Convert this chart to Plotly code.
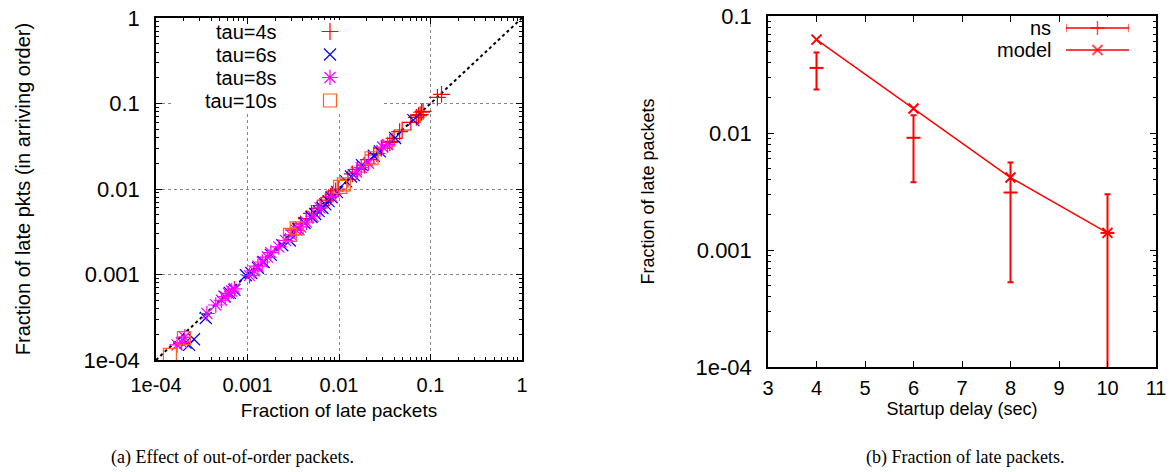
#### two log-scale panels: out-of-order effect and fraction of late packets

import plotly.graph_objects as go

# ---- panel (a): fraction of late packets vs late pkts in arriving order
tau4_x = [0.132, 0.119, 0.083, 0.080, 0.077, 0.074, 0.070, 0.061, 0.049, 0.046, 0.040,
          0.038, 0.036, 0.029, 0.026, 0.024, 0.021, 0.019, 0.016, 0.014, 0.0125, 0.0098,
          0.0092, 0.0086, 0.0081, 0.0077, 0.0072, 0.0064, 0.0058, 0.0050, 0.0044, 0.0038, 0.0032]
tau4_y = [0.128, 0.118, 0.081, 0.079, 0.074, 0.072, 0.069, 0.060, 0.049, 0.047, 0.039,
          0.036, 0.035, 0.030, 0.026, 0.025, 0.022, 0.019, 0.017, 0.015, 0.013, 0.0100,
          0.0095, 0.0087, 0.0082, 0.0079, 0.0074, 0.0064, 0.0059, 0.0052, 0.0045, 0.0039, 0.0033]

tau6_x = [0.00026, 0.00023, 0.00021, 0.00035, 0.00056, 0.00064, 0.00072, 0.00096, 0.00110,
          0.00130, 0.00150, 0.0018, 0.0024, 0.0029, 0.0036, 0.0042, 0.0050, 0.0055, 0.0060,
          0.0066, 0.0071, 0.0077, 0.0083, 0.0095, 0.0120, 0.0135, 0.0145, 0.0178, 0.0240,
          0.0280, 0.0410, 0.0650]
tau6_y = [0.000175, 0.000150, 0.000160, 0.00031, 0.00055, 0.00061, 0.00066, 0.00098, 0.00104,
          0.00120, 0.00140, 0.0017, 0.0022, 0.0025, 0.0034, 0.0040, 0.0047, 0.0051, 0.0055,
          0.0060, 0.0066, 0.0072, 0.0080, 0.0092, 0.0123, 0.0140, 0.0145, 0.0190, 0.0245,
          0.0275, 0.0395, 0.0640]

tau8_x = [0.000170, 0.000190, 0.000205, 0.00036, 0.00045, 0.00052, 0.00057, 0.00062, 0.00067,
          0.00072, 0.00105, 0.00118, 0.00130, 0.00145, 0.00165, 0.0018, 0.0022, 0.0026, 0.0030,
          0.0034, 0.0038, 0.0044, 0.0052, 0.0062, 0.0083, 0.0155, 0.0175, 0.021, 0.030, 0.034]
tau8_y = [0.000150, 0.000160, 0.000185, 0.00035, 0.00044, 0.00050, 0.00055, 0.00060, 0.00064,
          0.00068, 0.00097, 0.00110, 0.00125, 0.00140, 0.00160, 0.0018, 0.0021, 0.0025, 0.0029,
          0.0033, 0.0036, 0.0041, 0.0048, 0.0060, 0.0082, 0.0158, 0.0178, 0.020, 0.031, 0.033]

tau10_x = [0.000142, 0.000202, 0.00291, 0.00345, 0.0103, 0.0113, 0.0227]
tau10_y = [0.000115, 0.000180, 0.00290, 0.00347, 0.0106, 0.0113, 0.0229]

diag = [1e-4, 1]
log_ticks_a = [1e-4, 0.001, 0.01, 0.1, 1]
log_labels_a = ["1e-04", "0.001", "0.01", "0.1", "1"]

# ---- panel (b): fraction of late packets vs startup delay
delay = [4, 6, 8, 10]
model = [0.0628, 0.0162, 0.00416, 0.0014]
ns_mean = [0.036, 0.0091, 0.0031, 0.0014]
ns_high = [0.0487, 0.0142, 0.0056, 0.0030]
ns_low = [0.0235, 0.0038, 0.00053, 0.00005]
log_ticks_b = [1e-4, 0.001, 0.01, 0.1]
log_labels_b = ["1e-04", "0.001", "0.01", "0.1"]

FONT = "Liberation Sans"
RED = "#ff0000"
FW, FH = 1174, 472


def px(x):
    return x / FW


def py(y):
    return 1 - y / FH


fig = go.Figure()

# diagonal reference line
fig.add_trace(go.Scatter(x=diag, y=diag, mode="lines", showlegend=False,
                         line=dict(color="black", width=2, dash="dot"),
                         xaxis="x", yaxis="y"))

series = [
    ("tau=4s", tau4_x, tau4_y, "cross-thin-open", "#ff0000", 12),
    ("tau=6s", tau6_x, tau6_y, "x-thin-open", "#0000ff", 12),
    ("tau=8s", tau8_x, tau8_y, "asterisk-open", "#ff00ff", 13),
    ("tau=10s", tau10_x, tau10_y, "square-open", "#ff6020", 13),
]
for i, (name, xs, ys, sym, col, sz) in enumerate(series):
    mk = dict(symbol=sym, size=sz, color=col, line=dict(color=col, width=1.2))
    fig.add_trace(go.Scatter(x=xs, y=ys, mode="markers", name=name, showlegend=False,
                             marker=mk, cliponaxis=False, xaxis="x", yaxis="y"))
    # gnuplot-style key: label on the left, sample symbol on the right
    fig.add_trace(go.Scatter(x=[0], y=[i], mode="markers", showlegend=False, hoverinfo="skip",
                             marker=mk, xaxis="x3", yaxis="y3"))
    fig.add_annotation(text=name, x=px(279), xref="paper", y=i, yref="y3", showarrow=False,
                       xanchor="right", yanchor="middle",
                       font=dict(family=FONT, size=20, color="black"))

# ns simulation with error bars
fig.add_trace(go.Scatter(
    x=delay, y=ns_mean, mode="markers", name="ns", showlegend=False,
    marker=dict(symbol="line-ew-open", size=10, color=RED, line=dict(color=RED, width=2)),
    error_y=dict(type="data", symmetric=False,
                 array=[h - m for h, m in zip(ns_high, ns_mean)],
                 arrayminus=[m - l for m, l in zip(ns_mean, ns_low)],
                 color=RED, thickness=2, width=3),
    xaxis="x2", yaxis="y2"))

fig.add_trace(go.Scatter(
    x=delay, y=model, mode="lines+markers", name="model", showlegend=False,
    line=dict(color=RED, width=1.5),
    marker=dict(symbol="x-thin-open", size=10, color=RED, line=dict(color=RED, width=2)),
    xaxis="x2", yaxis="y2"))

# keys for panel (b)
fig.add_trace(go.Scatter(x=[0, 0.5, 1], y=[0, 0, 0], mode="lines+markers", showlegend=False,
                         hoverinfo="skip", line=dict(color=RED, width=1.5),
                         marker=dict(symbol=["line-ns-open", "cross-thin-open", "line-ns-open"],
                                     size=[6, 10, 6], color=RED, line=dict(color=RED, width=1.5)),
                         xaxis="x4", yaxis="y4"))
fig.add_trace(go.Scatter(x=[0, 0.5, 1], y=[1, 1, 1], mode="lines+markers", showlegend=False,
                         hoverinfo="skip", line=dict(color=RED, width=1.5),
                         marker=dict(symbol="x-thin-open", size=[0, 10, 0], color=RED,
                                     line=dict(color=RED, width=2)),
                         xaxis="x4", yaxis="y4"))
for i, name in enumerate(["ns", "model"]):
    fig.add_annotation(text=name, x=px(1053), xref="paper", y=i, yref="y4", showarrow=False,
                       xanchor="right", yanchor="middle",
                       font=dict(family=FONT, size=20, color="black"))


def minor_vals(lo, hi):
    return [m * 10 ** k for k in range(lo, hi) for m in range(2, 10)]


axis_common = dict(showline=True, linecolor="black", linewidth=1.5, mirror="allticks",
                   ticks="inside", ticklen=6, tickcolor="black", zeroline=False,
                   automargin=False, ticklabeloverflow="allow")
xfont = dict(family=FONT, size=20, color="black")
yfont = dict(family=FONT, size=22, color="black")
hidden = dict(visible=False, showgrid=False, zeroline=False, fixedrange=True)

fig.update_layout(
    width=FW, height=FH,
    margin=dict(l=0, r=0, t=0, b=0),
    plot_bgcolor="white", paper_bgcolor="white",
    font=dict(family=FONT, size=20, color="black"),
    showlegend=False,
    xaxis=dict(domain=[px(156), px(522)], type="log", range=[-4, 0], anchor="y",
               tickvals=log_ticks_a, ticktext=log_labels_a, ticklabelstandoff=6, tickfont=xfont,
               showgrid=True, gridcolor="#888888", griddash="dot", gridwidth=1,
               minor=dict(tickvals=minor_vals(-4, 0), ticks="inside", ticklen=3, tickcolor="black", showgrid=False),
               title=dict(text="Fraction of late packets", font=dict(size=19), standoff=9),
               **axis_common),
    yaxis=dict(domain=[py(360), py(18)], type="log", range=[-4, 0], anchor="x",
               tickvals=log_ticks_a, ticktext=log_labels_a, ticklabelstandoff=10, tickfont=yfont,
               showgrid=True, gridcolor="#888888", griddash="dot", gridwidth=1,
               minor=dict(tickvals=minor_vals(-4, 0), ticks="inside", ticklen=3, tickcolor="black", showgrid=False),
               title=dict(text="Fraction of late pkts (in arriving order)", font=dict(size=20), standoff=48),
               **axis_common),
    xaxis2=dict(domain=[px(768), px(1156)], range=[3, 11], anchor="y2", dtick=1,
                showgrid=False, ticklabelstandoff=2, tickfont=xfont,
                title=dict(text="Startup delay (sec)", font=dict(size=18), standoff=2),
                **axis_common),
    yaxis2=dict(domain=[py(367), py(16)], type="log", range=[-4, -1], anchor="x2",
                tickvals=log_ticks_b, ticktext=log_labels_b, showgrid=False, ticklabelstandoff=10,
                tickfont=yfont,
                minor=dict(tickvals=minor_vals(-4, -1), ticks="inside", ticklen=3, tickcolor="black", showgrid=False),
                title=dict(text="Fraction of late packets", font=dict(size=18), standoff=36),
                **axis_common),
    xaxis3=dict(domain=[px(310), px(350)], range=[-1, 1], anchor="y3", **hidden),
    yaxis3=dict(domain=[py(112), py(20)], range=[3.5, -0.5], anchor="x3", **hidden),
    xaxis4=dict(domain=[px(1066), px(1129)], range=[0, 1], anchor="y4", **hidden),
    yaxis4=dict(domain=[py(61), py(17)], range=[1.5, -0.5], anchor="x4", **hidden),
)


# the key box of panel (a) hides the grid behind it (box given in reference pixels)
def ax_a(pxv):
    return 10 ** (-4 + (pxv - 156) / 91.5)


def ay_a(pyv):
    return 10 ** (-4 + (360 - pyv) / 85.5)


fig.add_shape(type="rect", xref="x", yref="y",
              x0=ax_a(172), x1=ax_a(382), y0=ay_a(113), y1=ay_a(20),
              fillcolor="white", line=dict(width=0), layer="between")

# sub-figure captions
captions = [("(a) Effect of out-of-order packets.", 233), ("(b) Fraction of late packets.", 965)]
for text, cx in captions:
    fig.add_annotation(text=text, x=px(cx), y=py(457), xref="paper", yref="paper",
                       showarrow=False, xanchor="center", yanchor="middle",
                       font=dict(family="Liberation Serif", size=18, color="black"))

# drop the browser's default page margin so the figure fills the window exactly
fig.write_html("out.html", config={"displayModeBar": False},
               post_script="document.body.style.margin='0';")
